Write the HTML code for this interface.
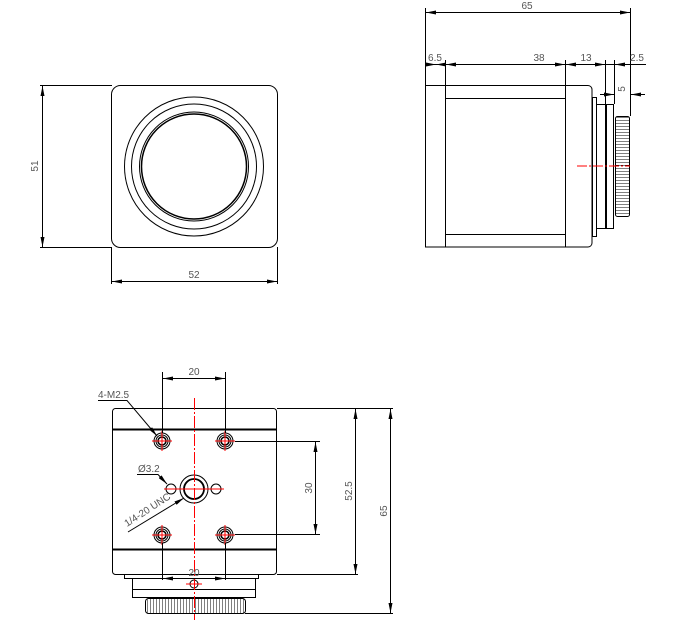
<!DOCTYPE html>
<html><head><meta charset="utf-8"><style>
html,body{margin:0;padding:0;background:#fff;}
svg{display:block;}
text{font-family:"Liberation Sans",sans-serif;font-size:10px;fill:#555;}
</style></head><body>
<svg width="681" height="626" viewBox="0 0 681 626" xmlns="http://www.w3.org/2000/svg">
<defs>
<marker id="a" viewBox="0 0 10 4" refX="10" refY="2" markerWidth="10" markerHeight="4" markerUnits="userSpaceOnUse" orient="auto-start-reverse"><path d="M0,0L10,2L0,4z" fill="#000"/></marker>
<pattern id="k" width="3" height="6" patternUnits="userSpaceOnUse"><rect width="3" height="6" fill="#fff"/><line x1="0" y1="0" x2="0" y2="6" stroke="#000" stroke-width="1"/></pattern>
<pattern id="kv" width="6" height="3" patternUnits="userSpaceOnUse"><rect width="6" height="3" fill="#fff"/><line x1="0" y1="0" x2="6" y2="0" stroke="#000" stroke-width="1"/></pattern>
</defs>
<g fill="none" stroke="#000" stroke-width="1">
<!-- FRONT VIEW -->
<rect x="111.5" y="85.5" width="166" height="162" rx="9"/>
<circle cx="194" cy="166.5" r="69.5"/>
<circle cx="194" cy="166.5" r="62.5"/>
<circle cx="194" cy="166.5" r="54.5"/>
<circle cx="194" cy="166.5" r="52.5" stroke-width="1.5"/>
<line x1="40" y1="85.5" x2="112" y2="85.5"/>
<line x1="40" y1="247.5" x2="112" y2="247.5"/>
<line x1="42.5" y1="86" x2="42.5" y2="247" marker-start="url(#a)" marker-end="url(#a)"/>
<line x1="111.5" y1="247" x2="111.5" y2="284"/>
<line x1="277.5" y1="247" x2="277.5" y2="284"/>
<line x1="112" y1="281.5" x2="277" y2="281.5" marker-start="url(#a)" marker-end="url(#a)"/>

<!-- SIDE VIEW -->
<path d="M425.5,85.5 H588 a4,4 0 0 1 4,4 V243 a4,4 0 0 1 -4,4 H425.5 Z"/>
<line x1="445.5" y1="85" x2="445.5" y2="247"/>
<line x1="565.5" y1="85" x2="565.5" y2="247"/>
<line x1="445.5" y1="98.5" x2="565.5" y2="98.5"/>
<line x1="445.5" y1="234.5" x2="565.5" y2="234.5"/>
<rect x="592.5" y="97.5" width="4" height="139"/>
<rect x="596.5" y="104.5" width="9" height="124"/>
<rect x="606.5" y="104.5" width="7" height="124"/>
<rect x="615.5" y="116.5" width="14" height="100" rx="2" fill="url(#kv)"/>
<line x1="577" y1="166" x2="630" y2="166" stroke="#f00" stroke-dasharray="10,2,2,2"/>
<line x1="425.5" y1="8" x2="425.5" y2="86"/>
<line x1="630.5" y1="8" x2="630.5" y2="116"/>
<line x1="426" y1="12.5" x2="630" y2="12.5" marker-start="url(#a)" marker-end="url(#a)"/>
<line x1="425" y1="64.5" x2="646" y2="64.5"/>
<line x1="445.5" y1="60" x2="445.5" y2="86"/>
<line x1="565.5" y1="60" x2="565.5" y2="86"/>
<line x1="605.5" y1="60" x2="605.5" y2="104"/>
<line x1="614.5" y1="60" x2="614.5" y2="104"/>
<line x1="426" y1="64.5" x2="436" y2="64.5" marker-end="url(#a)"/>
<line x1="436" y1="64.5" x2="445" y2="64.5" marker-start="url(#a)"/>
<line x1="446" y1="64.5" x2="456" y2="64.5" marker-start="url(#a)"/>
<line x1="555" y1="64.5" x2="565" y2="64.5" marker-end="url(#a)"/>
<line x1="566" y1="64.5" x2="576" y2="64.5" marker-start="url(#a)"/>
<line x1="595" y1="64.5" x2="605" y2="64.5" marker-end="url(#a)"/>
<line x1="615" y1="64.5" x2="625" y2="64.5" marker-start="url(#a)"/>
<line x1="600" y1="94.5" x2="614" y2="94.5" marker-end="url(#a)"/>
<line x1="645" y1="94.5" x2="631" y2="94.5" marker-end="url(#a)"/>

<!-- BOTTOM VIEW -->
<rect x="112.5" y="408.5" width="164" height="166" rx="3"/>
<line x1="112" y1="429.5" x2="277" y2="429.5" stroke-width="2"/>
<line x1="112" y1="549.5" x2="277" y2="549.5" stroke-width="2"/>
<rect x="124.5" y="574.5" width="134" height="4"/>
<rect x="132.5" y="578.5" width="123" height="19"/>
<line x1="132" y1="589.5" x2="256" y2="589.5"/>
<rect x="145.5" y="598.5" width="100" height="15" rx="3" fill="url(#k)"/>
<g>
<circle cx="162" cy="441" r="8"/><circle cx="162" cy="441" r="6"/><circle cx="162" cy="441" r="4" stroke-width="1.5"/>
<circle cx="225" cy="441" r="8"/><circle cx="225" cy="441" r="6"/><circle cx="225" cy="441" r="4" stroke-width="1.5"/>
<circle cx="162" cy="535" r="8"/><circle cx="162" cy="535" r="6"/><circle cx="162" cy="535" r="4" stroke-width="1.5"/>
<circle cx="225" cy="535" r="8"/><circle cx="225" cy="535" r="6"/><circle cx="225" cy="535" r="4" stroke-width="1.5"/>
<circle cx="194" cy="489" r="14"/><circle cx="194" cy="489" r="10" stroke-width="1.8"/>
<circle cx="171" cy="489" r="5"/><circle cx="216" cy="489" r="5"/>
<circle cx="194" cy="584" r="4"/>
</g>
<g stroke="#f00">
<line x1="194.5" y1="398" x2="194.5" y2="620" stroke-dasharray="12,2,2,2"/>
<line x1="152" y1="441" x2="172" y2="441"/><line x1="162" y1="431" x2="162" y2="451"/>
<line x1="215" y1="441" x2="235" y2="441"/><line x1="225" y1="431" x2="225" y2="451"/>
<line x1="152" y1="535" x2="172" y2="535"/><line x1="162" y1="525" x2="162" y2="545"/>
<line x1="215" y1="535" x2="235" y2="535"/><line x1="225" y1="525" x2="225" y2="545"/>
<line x1="164" y1="489" x2="224" y2="489"/>
<line x1="186" y1="584" x2="202" y2="584"/>
</g>
<line x1="162.5" y1="372" x2="162.5" y2="433"/>
<line x1="225.5" y1="372" x2="225.5" y2="433"/>
<line x1="163" y1="378.5" x2="225" y2="378.5" marker-start="url(#a)" marker-end="url(#a)"/>
<line x1="162.5" y1="543" x2="162.5" y2="580"/>
<line x1="225.5" y1="543" x2="225.5" y2="580"/>
<line x1="163" y1="578.5" x2="225" y2="578.5" marker-start="url(#a)" marker-end="url(#a)"/>
<polyline points="98,400.5 127,400.5 157,436" marker-end="url(#a)"/>
<polyline points="137,474.5 158,474.5 167,484" marker-end="url(#a)"/>
<line x1="128" y1="532" x2="184" y2="498" marker-end="url(#a)"/>
<line x1="235" y1="441.5" x2="320" y2="441.5"/>
<line x1="235" y1="534.5" x2="320" y2="534.5"/>
<line x1="315.5" y1="442" x2="315.5" y2="534" marker-start="url(#a)" marker-end="url(#a)"/>
<line x1="277" y1="408.5" x2="393" y2="408.5"/>
<line x1="277" y1="574.5" x2="358" y2="574.5"/>
<line x1="245" y1="613.5" x2="393" y2="613.5"/>
<line x1="355.5" y1="409" x2="355.5" y2="574" marker-start="url(#a)" marker-end="url(#a)"/>
<line x1="390.5" y1="409" x2="390.5" y2="613" marker-start="url(#a)" marker-end="url(#a)"/>
</g>
<!-- TEXT -->
<text x="38" y="166" text-anchor="middle" transform="rotate(-90 38 166)" dy="0">51</text>
<text x="194" y="278" text-anchor="middle">52</text>
<text x="527" y="9" text-anchor="middle">65</text>
<text x="435" y="61" text-anchor="middle">6.5</text>
<text x="539" y="61" text-anchor="middle">38</text>
<text x="586" y="61" text-anchor="middle">13</text>
<text x="637" y="61" text-anchor="middle">2.5</text>
<text x="625" y="89" text-anchor="middle" transform="rotate(-90 625 89)">5</text>
<text x="194" y="375" text-anchor="middle">20</text>
<text x="194" y="576" text-anchor="middle">20</text>
<text x="98" y="398">4-M2.5</text>
<text x="138" y="472">Ø3.2</text>
<text x="127" y="527" transform="rotate(-33 127 527)">1/4-20 UNC</text>
<text x="312" y="488" text-anchor="middle" transform="rotate(-90 312 488)">30</text>
<text x="352" y="491" text-anchor="middle" transform="rotate(-90 352 491)">52.5</text>
<text x="387" y="511" text-anchor="middle" transform="rotate(-90 387 511)">65</text>
</svg>
</body></html>
